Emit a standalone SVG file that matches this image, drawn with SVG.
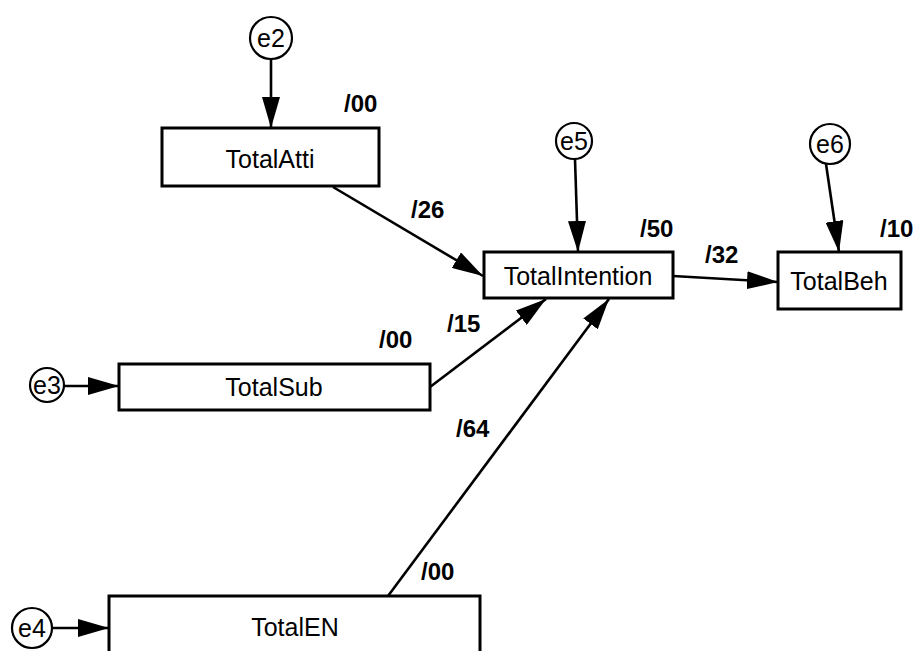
<svg xmlns="http://www.w3.org/2000/svg" width="919" height="651" viewBox="0 0 919 651">
<style>
.box{fill:#fff;stroke:#000;stroke-width:3}
.err{fill:#fff;stroke:#000;stroke-width:2.2}
.t{font-family:"Liberation Sans",Arial,sans-serif;font-size:25px;fill:#000;text-anchor:middle}
.lbl{font-family:"Liberation Sans",Arial,sans-serif;font-size:24px;font-weight:bold;fill:#000}
.c{stroke:#000;stroke-width:2.6;fill:none;marker-end:url(#ah)}
</style>
<defs>
<marker id="ah" markerUnits="userSpaceOnUse" markerWidth="31" markerHeight="18" refX="31" refY="9" orient="auto">
<path d="M0,0 L31,9 L0,18 z" fill="#000"/>
</marker>
</defs>
<rect width="919" height="651" fill="#fff"/>
<g id="connectors">
<line class="c" x1="271" y1="59" x2="271" y2="128"/>
<line class="c" x1="64" y1="386" x2="119" y2="386"/>
<line class="c" x1="52" y1="628" x2="109" y2="628"/>
<line class="c" x1="575" y1="159" x2="578" y2="252"/>
<line class="c" x1="826" y1="164" x2="839" y2="252"/>
<line class="c" x1="333" y1="187" x2="483" y2="276"/>
<line class="c" x1="430" y1="387" x2="546" y2="299"/>
<line class="c" x1="388" y1="596" x2="609" y2="299"/>
<line class="c" x1="673" y1="276" x2="778" y2="282"/>
</g>
<g id="e2"><circle class="err" cx="271" cy="38" r="21"/><text class="t" x="271" y="47">e2</text></g>
<g id="e3"><circle class="err" cx="47" cy="385" r="17"/><text class="t" x="47" y="394">e3</text></g>
<g id="e4"><circle class="err" cx="32" cy="628" r="20"/><text class="t" x="32" y="637">e4</text></g>
<g id="e5"><circle class="err" cx="574" cy="141" r="18"/><text class="t" x="574" y="150">e5</text></g>
<g id="e6"><circle class="err" cx="830" cy="144" r="20"/><text class="t" x="830" y="153">e6</text></g>
<g id="TotalAtti"><rect class="box" x="162" y="128" width="217" height="58"/><text class="t" x="270" y="168">TotalAtti</text><text class="lbl" x="344" y="112">/00</text></g>
<g id="TotalSub"><rect class="box" x="119" y="364" width="311" height="46"/><text class="t" x="274" y="396">TotalSub</text><text class="lbl" x="379" y="348">/00</text></g>
<g id="TotalEN"><rect class="box" x="109" y="596" width="371" height="80"/><text class="t" x="295" y="636">TotalEN</text><text class="lbl" x="421" y="580">/00</text></g>
<g id="TotalIntention"><rect class="box" x="484" y="252" width="189" height="46"/><text class="t" x="578" y="285">TotalIntention</text><text class="lbl" x="640" y="237">/50</text></g>
<g id="TotalBeh"><rect class="box" x="778" y="252" width="123" height="57"/><text class="t" x="839" y="290">TotalBeh</text><text class="lbl" x="880" y="237">/10</text></g>
<g id="labels">
<text class="lbl" x="411" y="218">/26</text>
<text class="lbl" x="447" y="332">/15</text>
<text class="lbl" x="456" y="437">/64</text>
<text class="lbl" x="705" y="263">/32</text>
</g>
</svg>
